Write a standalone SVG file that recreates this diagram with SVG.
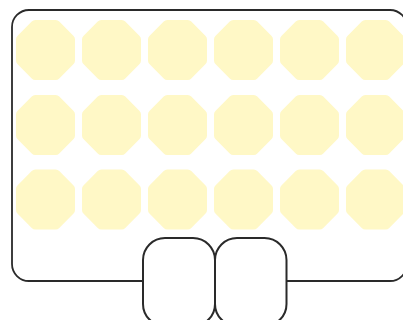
<svg xmlns="http://www.w3.org/2000/svg" xmlns:xlink="http://www.w3.org/1999/xlink" width="403" height="320" viewBox="0 0 403 320">
<style>
.oct{fill:#fff8c6;stroke:#fff8c6;stroke-width:10;stroke-linejoin:round}
.frame{fill:none;stroke:#2a2a2a;stroke-width:1.8}
.node{fill:#ffffff;stroke:#2a2a2a;stroke-width:2}
</style>
<defs>
<path id="o" class="oct" d="M-10.2,-25 L10.2,-25 L24.5,-10.4 L24.5,10.4 L10.2,25 L-10.2,25 L-24.5,10.4 L-24.5,-10.4 Z"/>
</defs>
<rect width="403" height="320" fill="#ffffff"/>
<g id="frame">
<rect class="frame" x="12" y="10" width="395" height="271" rx="17" ry="17"/>
</g>
<g id="cells">
<g id="r1">
<use xlink:href="#o" x="45.5" y="50"/><use xlink:href="#o" x="111.5" y="50"/><use xlink:href="#o" x="177.5" y="50"/><use xlink:href="#o" x="243.5" y="50"/><use xlink:href="#o" x="309.5" y="50"/><use xlink:href="#o" x="375.5" y="50"/>
</g>
<g id="r2">
<use xlink:href="#o" x="45.5" y="125"/><use xlink:href="#o" x="111.5" y="125"/><use xlink:href="#o" x="177.5" y="125"/><use xlink:href="#o" x="243.5" y="125"/><use xlink:href="#o" x="309.5" y="125"/><use xlink:href="#o" x="375.5" y="125"/>
</g>
<g id="r3">
<use xlink:href="#o" x="45.5" y="199.5"/><use xlink:href="#o" x="111.5" y="199.5"/><use xlink:href="#o" x="177.5" y="199.5"/><use xlink:href="#o" x="243.5" y="199.5"/><use xlink:href="#o" x="309.5" y="199.5"/><use xlink:href="#o" x="375.5" y="199.5"/>
</g>
</g>
<g id="node1"><rect class="node" x="143" y="238" width="72" height="88" rx="22" ry="22"/></g>
<g id="node2"><rect class="node" x="215" y="238" width="71.5" height="88" rx="22" ry="22"/></g>
<g id="connectors"></g>
</svg>
